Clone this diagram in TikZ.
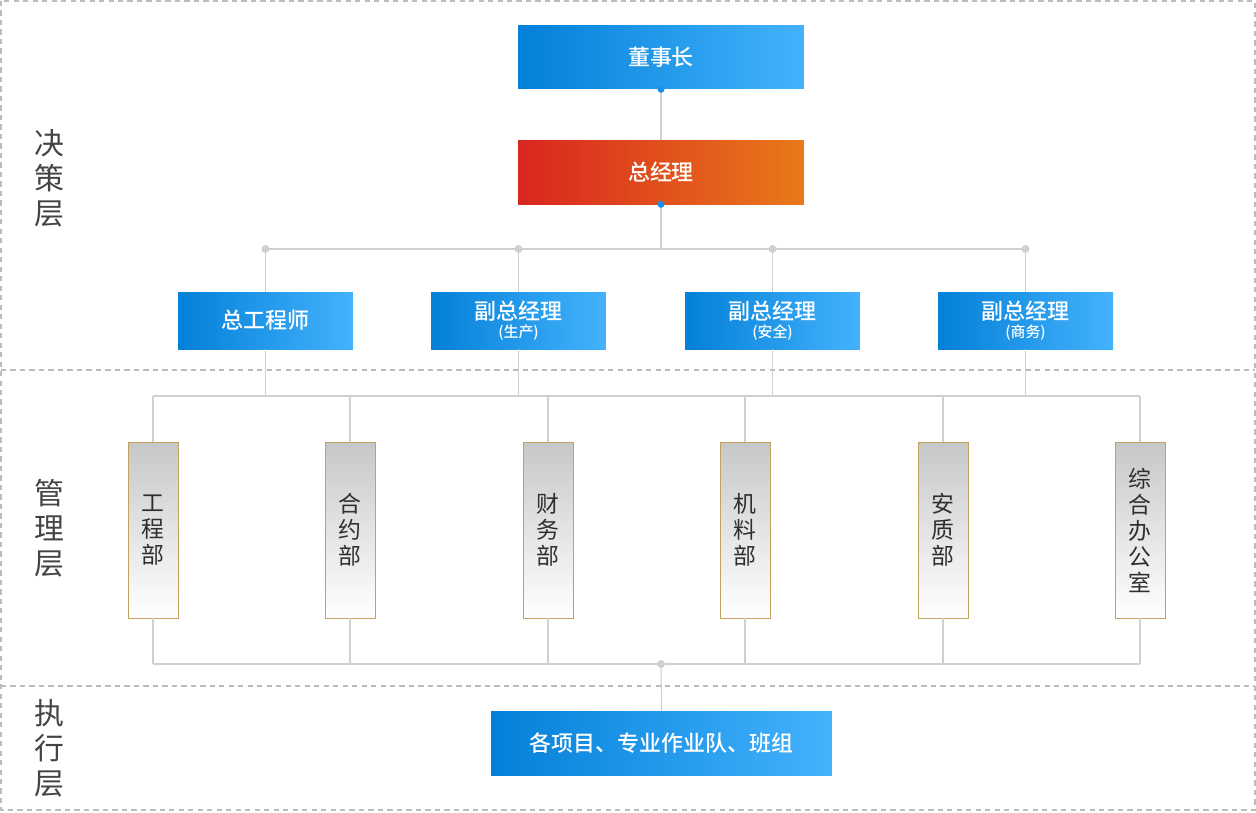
\documentclass[tikz,border=0pt]{standalone}
\usepackage{fontspec}
\usepackage{xcolor}
\setmainfont{Noto Sans CJK SC}
\newfontfamily\medfont{Noto Sans CJK SC Medium}
\usetikzlibrary{positioning}
\definecolor{blueA}{HTML}{0380D8}
\definecolor{blueB}{HTML}{44B2FD}
\definecolor{redA}{HTML}{D9261F}
\definecolor{redB}{HTML}{E8791A}
\definecolor{linegray}{HTML}{D0D0D0}
\definecolor{dashgray}{HTML}{BDBDBD}
\definecolor{deptgray}{HTML}{C6C8C7}
\definecolor{deptline}{HTML}{C4A15E}
\definecolor{labelgray}{HTML}{444444}
\definecolor{dotblue}{HTML}{1890F0}

\tikzset{
  bluebox/.style={left color=blueA, right color=blueB, draw=none, text=white,
    font=\fontsize{12.5}{13}\selectfont\medfont, inner sep=0pt, align=center},
  redbox/.style={bluebox, left color=redA, right color=redB},
  dept/.style={top color=deptgray, bottom color=white, draw=deptline, line width=0.5pt,
    minimum width=1cm, minimum height=3.52cm, inner sep=0pt, align=center,
    text=black!82, font=\fontsize{13}{14.8}\selectfont},
  layer/.style={text=labelgray, align=center, font=\fontsize{17}{20}\selectfont},
  conn/.style={draw=linegray, line width=0.6pt},
  sep/.style={draw=dashgray, line width=0.6pt, dash pattern=on 3pt off 2.4pt},
}

\begin{document}
\begin{tikzpicture}[x=0.02cm, y=-0.02cm]
\useasboundingbox (0,0) rectangle (1256,812);
% frame and layer separators
\draw[sep] (1,1) rectangle (1255,810);
\draw[sep] (1,370) -- (1255,370);
\draw[sep] (1,686) -- (1255,686);

% layer names
\node[layer] (jc) at (49,178) {决\\策\\层};
\node[layer] (gl) at (49,528) {管\\理\\层};
\node[layer] (zx) at (49,748) {执\\行\\层};

% top
\node[bluebox, minimum width=5.72cm, minimum height=1.28cm] (dsz) at (661,57) {董事长};
\node[redbox, minimum width=5.72cm, minimum height=1.28cm] (zjl) at (661,172) {总经理};

% second row
\node[bluebox, minimum width=3.5cm, minimum height=1.14cm] (zgcs) at (265.5,320.5) {总工程师};
\node[bluebox, minimum width=3.5cm, minimum height=1.14cm] (fsc) at (518.5,320.5) {副总经理\\[-3pt]{\fontsize{8.5}{9}\selectfont (生产)}};
\node[bluebox, minimum width=3.5cm, minimum height=1.14cm] (faq) at (772.5,320.5) {副总经理\\[-3pt]{\fontsize{8.5}{9}\selectfont (安全)}};
\node[bluebox, minimum width=3.5cm, minimum height=1.14cm] (fsw) at (1025.5,320.5) {副总经理\\[-3pt]{\fontsize{8.5}{9}\selectfont (商务)}};

% departments
\node[dept] (gcb) at (153,530) {工\\程\\部};
\node[dept] (hyb) at (350,530) {合\\约\\部};
\node[dept] (cwb) at (548,530) {财\\务\\部};
\node[dept] (jlb) at (745,530) {机\\料\\部};
\node[dept] (aqb) at (943,530) {安\\质\\部};
\node[dept] (zhb) at (1140,530) {综\\合\\办\\公\\室};

% bottom
\node[bluebox, minimum width=6.82cm, minimum height=1.28cm] (xmd) at (661.5,743) {各项目、专业作业队、班组};

% bus points
\coordinate (bus1) at (661,249);
\coordinate (bus2) at (661,396);
\coordinate (bus3) at (661,664);

% connectors
\draw[conn] (dsz.south) -- (zjl.north);
\draw[conn] (zjl.south) -- (bus1);
\draw[conn] (zgcs.north |- bus1) -- (fsw.north |- bus1);
\foreach \n in {zgcs,fsc,faq,fsw} {
  \draw[conn] (\n.north |- bus1) -- (\n.north);
  \draw[conn] (\n.south) -- (\n.south |- bus2);
  \fill[linegray] (\n.north |- bus1) circle (4);
}
\draw[conn] (gcb.north |- bus2) -- (zhb.north |- bus2);
\foreach \n in {gcb,hyb,cwb,jlb,aqb,zhb} {
  \draw[conn] (\n.north |- bus2) -- (\n.north);
  \draw[conn] (\n.south) -- (\n.south |- bus3);
}
\draw[conn] (gcb.south |- bus3) -- (zhb.south |- bus3);
\draw[conn] (bus3) -- (xmd.north);
\fill[linegray] (bus3) circle (4);

% blue dots
\fill[dotblue] (dsz.south) circle (3.5);
\fill[dotblue] (zjl.south) circle (3.5);
\end{tikzpicture}
\end{document}
